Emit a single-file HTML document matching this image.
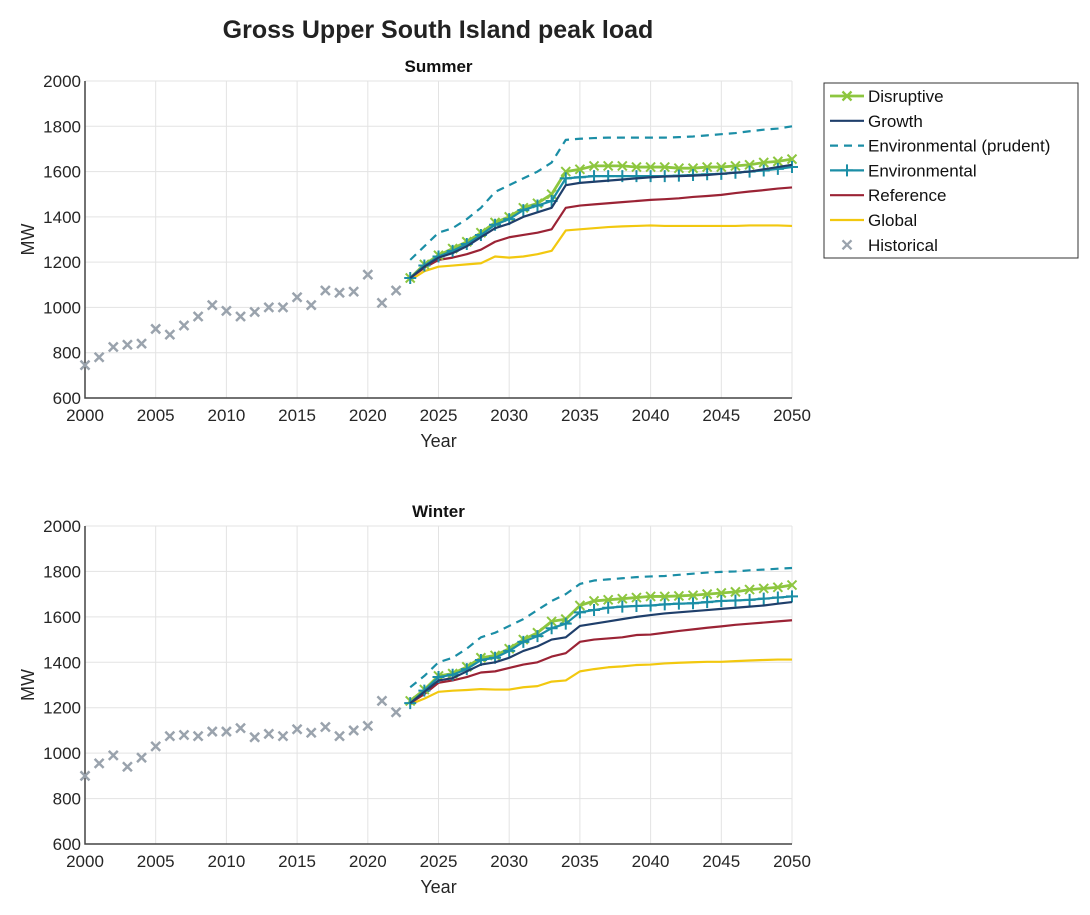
<!DOCTYPE html>
<html><head><meta charset="utf-8"><style>
body{margin:0;background:#fff;font-family:"Liberation Sans",sans-serif}
svg text{font-family:"Liberation Sans",sans-serif}
</style></head><body>
<svg id="chart" width="1090" height="910" viewBox="0 0 1090 910" xmlns="http://www.w3.org/2000/svg">
<text x="438" y="38" text-anchor="middle" font-size="25" font-weight="bold" fill="#222">Gross Upper South Island peak load</text>
<g id="panels"></g>
<g id="legend"></g>
</svg>
<script>
const histYears=[2000,2001,2002,2003,2004,2005,2006,2007,2008,2009,2010,2011,2012,2013,2014,2015,2016,2017,2018,2019,2020,2021,2022];
const projYears=[2023,2024,2025,2026,2027,2028,2029,2030,2031,2032,2033,2034,2035,2036,2037,2038,2039,2040,2041,2042,2043,2044,2045,2046,2047,2048,2049,2050];
const xTicks=[2000,2005,2010,2015,2020,2025,2030,2035,2040,2045,2050];
const yTicks=[600,800,1000,1200,1400,1600,1800,2000];
const seriesNames=["Disruptive","Growth","Environmental (prudent)","Environmental","Reference","Global","Historical"];
const summerHist=[745,780,825,835,840,905,880,920,960,1010,985,960,980,1000,1000,1045,1010,1075,1065,1070,1145,1020,1075];
const summerDisruptive=[1130,1190,1230,1260,1290,1330,1375,1400,1440,1460,1500,1600,1610,1625,1625,1625,1620,1620,1620,1615,1615,1620,1620,1625,1630,1640,1645,1655];
const summerGrowth=[1130,1180,1220,1240,1270,1310,1350,1370,1400,1420,1440,1540,1550,1555,1560,1565,1570,1575,1578,1580,1582,1585,1590,1595,1600,1610,1620,1630];
const summerPrudent=[1210,1270,1330,1350,1390,1440,1510,1540,1570,1600,1640,1740,1745,1748,1750,1750,1750,1750,1750,1752,1755,1760,1765,1770,1778,1785,1790,1800];
const summerEnv=[1130,1185,1225,1250,1280,1320,1365,1390,1430,1450,1470,1570,1575,1580,1580,1580,1580,1580,1580,1582,1585,1588,1590,1595,1600,1605,1612,1620];
const summerRef=[1130,1175,1210,1220,1235,1255,1290,1310,1320,1330,1345,1440,1450,1455,1460,1465,1470,1475,1478,1482,1488,1492,1497,1505,1512,1518,1525,1530];
const summerGlobal=[1120,1160,1180,1185,1190,1195,1225,1220,1225,1235,1250,1340,1345,1350,1355,1358,1360,1362,1360,1360,1360,1360,1360,1360,1362,1362,1362,1360];
const winterHist=[900,955,990,940,980,1030,1075,1080,1075,1095,1095,1110,1070,1085,1075,1105,1090,1115,1075,1100,1120,1230,1180];
const winterDisruptive=[1230,1280,1340,1350,1380,1420,1430,1460,1500,1530,1580,1590,1650,1670,1675,1680,1685,1690,1690,1692,1695,1700,1705,1710,1720,1725,1730,1740];
const winterGrowth=[1220,1270,1320,1330,1360,1390,1400,1420,1450,1470,1500,1510,1560,1570,1580,1590,1600,1608,1615,1620,1625,1630,1635,1640,1645,1650,1658,1665];
const winterPrudent=[1290,1340,1400,1420,1460,1510,1530,1560,1590,1630,1670,1700,1745,1760,1765,1770,1775,1778,1780,1785,1790,1795,1798,1800,1805,1808,1812,1815];
const winterEnv=[1220,1275,1335,1345,1370,1410,1420,1450,1490,1515,1550,1570,1620,1630,1640,1645,1648,1650,1655,1658,1660,1665,1670,1672,1675,1680,1685,1690];
const winterRef=[1220,1260,1310,1320,1335,1355,1360,1375,1390,1400,1425,1440,1490,1500,1505,1510,1520,1522,1530,1538,1545,1552,1558,1565,1570,1575,1580,1585];
const winterGlobal=[1215,1240,1270,1275,1278,1282,1280,1280,1290,1295,1315,1320,1360,1370,1378,1382,1388,1390,1395,1398,1400,1402,1402,1405,1408,1410,1412,1412];

const NS="http://www.w3.org/2000/svg";
const colors={Disruptive:"#8dc63f",Growth:"#1f3f6b",Prudent:"#1b8ea6",Env:"#1b8ea6",Ref:"#9b2335",Global:"#f2c80f",Hist:"#9aa3ad"};
function mk(tag,attrs,parent){const e=document.createElementNS(NS,tag);for(const k in attrs)e.setAttribute(k,attrs[k]);parent.appendChild(e);return e;}
const X0=85,X1=792;
function xs(v){return X0+(v-2000)/50*(X1-X0);}
function crossPath(x,y,s){return `M${x-s},${y-s}L${x+s},${y+s}M${x-s},${y+s}L${x+s},${y-s}`;}
function plusPath(x,y,s){return `M${x-s},${y}L${x+s},${y}M${x},${y-s}L${x},${y+s}`;}
function panel(title,top,bottom,d,key){
  const root=document.getElementById('panels');
  const g=mk('g',{},root);
  
  
  const ys=v=>bottom-(v-600)/1400*(bottom-top);
  mk('rect',{x:X0,y:top,width:X1-X0,height:bottom-top,fill:'#fff',stroke:'none'},g);
  xTicks.forEach(t=>{const l=mk('line',{x1:xs(t),x2:xs(t),y1:top,y2:bottom,stroke:'#e3e3e3','stroke-width':1},g);
    
    const tx=mk('text',{x:xs(t),y:bottom+23,'text-anchor':'middle','font-size':17,fill:'#262626'},g);tx.textContent=t;
    });
  yTicks.forEach(t=>{const l=mk('line',{x1:X0,x2:X1,y1:ys(t),y2:ys(t),stroke:'#e3e3e3','stroke-width':1},g);
    
    const tx=mk('text',{x:X0-4,y:ys(t)+6,'text-anchor':'end','font-size':17,fill:'#262626'},g);tx.textContent=t;
    });
  const ax=mk('path',{d:`M${X0},${top}V${bottom}H${X1}`,fill:'none',stroke:'#444','stroke-width':1.5},g);
  
  const tt=mk('text',{x:(X0+X1)/2,y:top-9,'text-anchor':'middle','font-size':17,'font-weight':'bold',fill:'#111'},g);tt.textContent=title;
  
  const xl=mk('text',{x:(X0+X1)/2,y:bottom+49,'text-anchor':'middle','font-size':18,fill:'#262626'},g);xl.textContent='Year';
  
  const yl=mk('text',{x:34,y:(top+bottom)/2,'text-anchor':'middle','font-size':18,fill:'#262626',transform:`rotate(-90 34 ${(top+bottom)/2})`},g);yl.textContent='MW';
  
  let hp='';d.hist.forEach((v,i)=>{hp+=crossPath(xs(histYears[i]),ys(v),4.5);});
  const h=mk('path',{d:hp,stroke:colors.Hist,'stroke-width':2.5,fill:'none'},g);
  
  const line=(arr,col,name,extra)=>{const p=arr.map((v,i)=>(i?'L':'M')+xs(projYears[i])+','+ys(v)).join('');
    const e=mk('path',Object.assign({d:p,stroke:col,'stroke-width':2.2,fill:'none','stroke-linejoin':'round'},extra||{}),g);
    };
  line(d.global,colors.Global,'global-line');
  line(d.ref,colors.Ref,'reference-line');
  line(d.prudent,colors.Prudent,'environmental-prudent-line',{'stroke-dasharray':'8,6'});
  line(d.dis,colors.Disruptive,'disruptive-line',{'stroke-width':2.8});
  let dm='';d.dis.forEach((v,i)=>{dm+=crossPath(xs(projYears[i]),ys(v),4.5);});
  const dme=mk('path',{d:dm,stroke:colors.Disruptive,'stroke-width':2,fill:'none'},g);
  
  line(d.env,colors.Env,'environmental-line');
  let em='';d.env.forEach((v,i)=>{em+=plusPath(xs(projYears[i]),ys(v),6);});
  const eme=mk('path',{d:em,stroke:colors.Env,'stroke-width':2,fill:'none'},g);
  
  line(d.growth,colors.Growth,'growth-line');
}
panel('Summer',81,398,{hist:summerHist,dis:summerDisruptive,growth:summerGrowth,prudent:summerPrudent,env:summerEnv,ref:summerRef,global:summerGlobal},'summer');
panel('Winter',526,844,{hist:winterHist,dis:winterDisruptive,growth:winterGrowth,prudent:winterPrudent,env:winterEnv,ref:winterRef,global:winterGlobal},'winter');
const lg=document.getElementById('legend');
mk('rect',{x:824,y:83,width:254,height:175,fill:'#fff',stroke:'#333','stroke-width':1},lg);
const lcols=[colors.Disruptive,colors.Growth,colors.Prudent,colors.Env,colors.Ref,colors.Global,colors.Hist];
seriesNames.forEach((n,i)=>{
  const y=96+i*24.8;
  const ent=mk('g',{},lg);
  
  
  if(i<6){mk('line',Object.assign({x1:830,x2:864,y1:y,y2:y,stroke:lcols[i],'stroke-width':i==0?2.8:2.2},i==2?{'stroke-dasharray':'8,6'}:{}),ent);}
  if(i==0||i==6)mk('path',{d:crossPath(847,y,4.5),stroke:lcols[i],'stroke-width':2.3,fill:'none'},ent);
  if(i==3)mk('path',{d:plusPath(847,y,6),stroke:lcols[i],'stroke-width':2,fill:'none'},ent);
  const t=mk('text',{x:868,y:y+6,'font-size':17,fill:'#111'},ent);t.textContent=n;
});
</script>
</body></html>
